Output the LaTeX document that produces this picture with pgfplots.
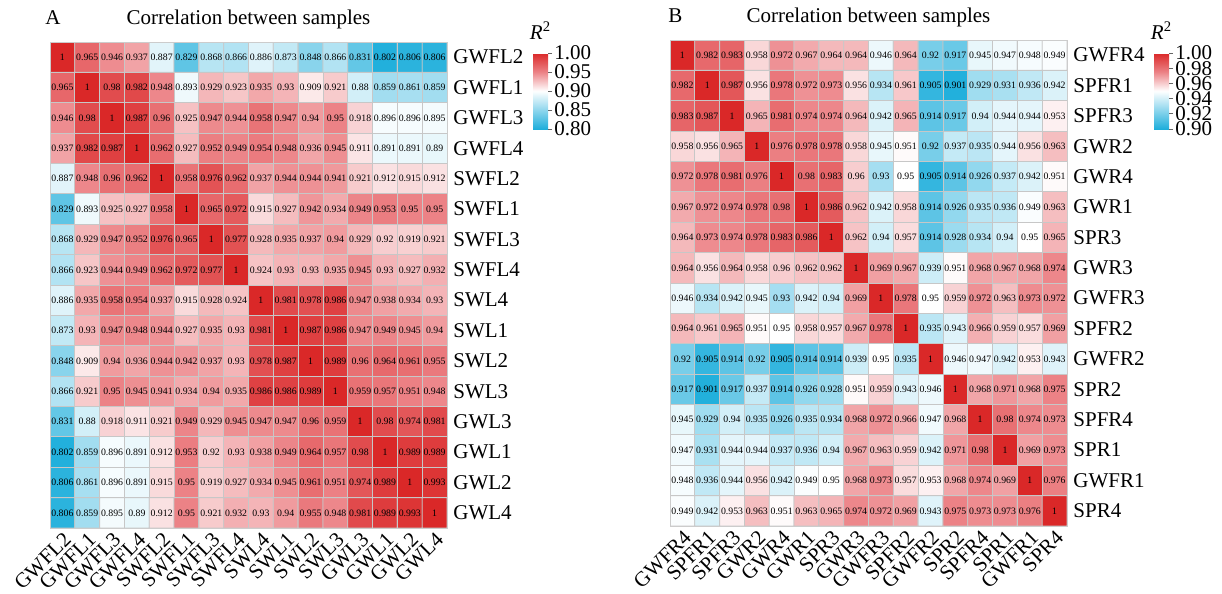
\documentclass[border=0pt]{standalone}
\usepackage{fontspec}
\setmainfont{Liberation Serif}
\usepackage{pgfplots}
\usepackage{pgfplotstable}
\pgfplotsset{compat=1.18}

% panel A: row-wise (x = column, y = row counted from the top)
\pgfplotstableread[row sep=\\]{
x y c\\
0 0 1\\ 1 0 0.965\\ 2 0 0.946\\ 3 0 0.937\\ 4 0 0.887\\ 5 0 0.829\\ 6 0 0.868\\ 7 0 0.866\\ 8 0 0.886\\ 9 0 0.873\\ 10 0 0.848\\ 11 0 0.866\\ 12 0 0.831\\ 13 0 0.802\\ 14 0 0.806\\ 15 0 0.806\\
0 1 0.965\\ 1 1 1\\ 2 1 0.98\\ 3 1 0.982\\ 4 1 0.948\\ 5 1 0.893\\ 6 1 0.929\\ 7 1 0.923\\ 8 1 0.935\\ 9 1 0.93\\ 10 1 0.909\\ 11 1 0.921\\ 12 1 0.88\\ 13 1 0.859\\ 14 1 0.861\\ 15 1 0.859\\
0 2 0.946\\ 1 2 0.98\\ 2 2 1\\ 3 2 0.987\\ 4 2 0.96\\ 5 2 0.925\\ 6 2 0.947\\ 7 2 0.944\\ 8 2 0.958\\ 9 2 0.947\\ 10 2 0.94\\ 11 2 0.95\\ 12 2 0.918\\ 13 2 0.896\\ 14 2 0.896\\ 15 2 0.895\\
0 3 0.937\\ 1 3 0.982\\ 2 3 0.987\\ 3 3 1\\ 4 3 0.962\\ 5 3 0.927\\ 6 3 0.952\\ 7 3 0.949\\ 8 3 0.954\\ 9 3 0.948\\ 10 3 0.936\\ 11 3 0.945\\ 12 3 0.911\\ 13 3 0.891\\ 14 3 0.891\\ 15 3 0.89\\
0 4 0.887\\ 1 4 0.948\\ 2 4 0.96\\ 3 4 0.962\\ 4 4 1\\ 5 4 0.958\\ 6 4 0.976\\ 7 4 0.962\\ 8 4 0.937\\ 9 4 0.944\\ 10 4 0.944\\ 11 4 0.941\\ 12 4 0.921\\ 13 4 0.912\\ 14 4 0.915\\ 15 4 0.912\\
0 5 0.829\\ 1 5 0.893\\ 2 5 0.925\\ 3 5 0.927\\ 4 5 0.958\\ 5 5 1\\ 6 5 0.965\\ 7 5 0.972\\ 8 5 0.915\\ 9 5 0.927\\ 10 5 0.942\\ 11 5 0.934\\ 12 5 0.949\\ 13 5 0.953\\ 14 5 0.95\\ 15 5 0.95\\
0 6 0.868\\ 1 6 0.929\\ 2 6 0.947\\ 3 6 0.952\\ 4 6 0.976\\ 5 6 0.965\\ 6 6 1\\ 7 6 0.977\\ 8 6 0.928\\ 9 6 0.935\\ 10 6 0.937\\ 11 6 0.94\\ 12 6 0.929\\ 13 6 0.92\\ 14 6 0.919\\ 15 6 0.921\\
0 7 0.866\\ 1 7 0.923\\ 2 7 0.944\\ 3 7 0.949\\ 4 7 0.962\\ 5 7 0.972\\ 6 7 0.977\\ 7 7 1\\ 8 7 0.924\\ 9 7 0.93\\ 10 7 0.93\\ 11 7 0.935\\ 12 7 0.945\\ 13 7 0.93\\ 14 7 0.927\\ 15 7 0.932\\
0 8 0.886\\ 1 8 0.935\\ 2 8 0.958\\ 3 8 0.954\\ 4 8 0.937\\ 5 8 0.915\\ 6 8 0.928\\ 7 8 0.924\\ 8 8 1\\ 9 8 0.981\\ 10 8 0.978\\ 11 8 0.986\\ 12 8 0.947\\ 13 8 0.938\\ 14 8 0.934\\ 15 8 0.93\\
0 9 0.873\\ 1 9 0.93\\ 2 9 0.947\\ 3 9 0.948\\ 4 9 0.944\\ 5 9 0.927\\ 6 9 0.935\\ 7 9 0.93\\ 8 9 0.981\\ 9 9 1\\ 10 9 0.987\\ 11 9 0.986\\ 12 9 0.947\\ 13 9 0.949\\ 14 9 0.945\\ 15 9 0.94\\
0 10 0.848\\ 1 10 0.909\\ 2 10 0.94\\ 3 10 0.936\\ 4 10 0.944\\ 5 10 0.942\\ 6 10 0.937\\ 7 10 0.93\\ 8 10 0.978\\ 9 10 0.987\\ 10 10 1\\ 11 10 0.989\\ 12 10 0.96\\ 13 10 0.964\\ 14 10 0.961\\ 15 10 0.955\\
0 11 0.866\\ 1 11 0.921\\ 2 11 0.95\\ 3 11 0.945\\ 4 11 0.941\\ 5 11 0.934\\ 6 11 0.94\\ 7 11 0.935\\ 8 11 0.986\\ 9 11 0.986\\ 10 11 0.989\\ 11 11 1\\ 12 11 0.959\\ 13 11 0.957\\ 14 11 0.951\\ 15 11 0.948\\
0 12 0.831\\ 1 12 0.88\\ 2 12 0.918\\ 3 12 0.911\\ 4 12 0.921\\ 5 12 0.949\\ 6 12 0.929\\ 7 12 0.945\\ 8 12 0.947\\ 9 12 0.947\\ 10 12 0.96\\ 11 12 0.959\\ 12 12 1\\ 13 12 0.98\\ 14 12 0.974\\ 15 12 0.981\\
0 13 0.802\\ 1 13 0.859\\ 2 13 0.896\\ 3 13 0.891\\ 4 13 0.912\\ 5 13 0.953\\ 6 13 0.92\\ 7 13 0.93\\ 8 13 0.938\\ 9 13 0.949\\ 10 13 0.964\\ 11 13 0.957\\ 12 13 0.98\\ 13 13 1\\ 14 13 0.989\\ 15 13 0.989\\
0 14 0.806\\ 1 14 0.861\\ 2 14 0.896\\ 3 14 0.891\\ 4 14 0.915\\ 5 14 0.95\\ 6 14 0.919\\ 7 14 0.927\\ 8 14 0.934\\ 9 14 0.945\\ 10 14 0.961\\ 11 14 0.951\\ 12 14 0.974\\ 13 14 0.989\\ 14 14 1\\ 15 14 0.993\\
0 15 0.806\\ 1 15 0.859\\ 2 15 0.895\\ 3 15 0.89\\ 4 15 0.912\\ 5 15 0.95\\ 6 15 0.921\\ 7 15 0.932\\ 8 15 0.93\\ 9 15 0.94\\ 10 15 0.955\\ 11 15 0.948\\ 12 15 0.981\\ 13 15 0.989\\ 14 15 0.993\\ 15 15 1\\
}\dataA

% panel B
\pgfplotstableread[row sep=\\]{
x y c\\
0 0 1\\ 1 0 0.982\\ 2 0 0.983\\ 3 0 0.958\\ 4 0 0.972\\ 5 0 0.967\\ 6 0 0.964\\ 7 0 0.964\\ 8 0 0.946\\ 9 0 0.964\\ 10 0 0.92\\ 11 0 0.917\\ 12 0 0.945\\ 13 0 0.947\\ 14 0 0.948\\ 15 0 0.949\\
0 1 0.982\\ 1 1 1\\ 2 1 0.987\\ 3 1 0.956\\ 4 1 0.978\\ 5 1 0.972\\ 6 1 0.973\\ 7 1 0.956\\ 8 1 0.934\\ 9 1 0.961\\ 10 1 0.905\\ 11 1 0.901\\ 12 1 0.929\\ 13 1 0.931\\ 14 1 0.936\\ 15 1 0.942\\
0 2 0.983\\ 1 2 0.987\\ 2 2 1\\ 3 2 0.965\\ 4 2 0.981\\ 5 2 0.974\\ 6 2 0.974\\ 7 2 0.964\\ 8 2 0.942\\ 9 2 0.965\\ 10 2 0.914\\ 11 2 0.917\\ 12 2 0.94\\ 13 2 0.944\\ 14 2 0.944\\ 15 2 0.953\\
0 3 0.958\\ 1 3 0.956\\ 2 3 0.965\\ 3 3 1\\ 4 3 0.976\\ 5 3 0.978\\ 6 3 0.978\\ 7 3 0.958\\ 8 3 0.945\\ 9 3 0.951\\ 10 3 0.92\\ 11 3 0.937\\ 12 3 0.935\\ 13 3 0.944\\ 14 3 0.956\\ 15 3 0.963\\
0 4 0.972\\ 1 4 0.978\\ 2 4 0.981\\ 3 4 0.976\\ 4 4 1\\ 5 4 0.98\\ 6 4 0.983\\ 7 4 0.96\\ 8 4 0.93\\ 9 4 0.95\\ 10 4 0.905\\ 11 4 0.914\\ 12 4 0.926\\ 13 4 0.937\\ 14 4 0.942\\ 15 4 0.951\\
0 5 0.967\\ 1 5 0.972\\ 2 5 0.974\\ 3 5 0.978\\ 4 5 0.98\\ 5 5 1\\ 6 5 0.986\\ 7 5 0.962\\ 8 5 0.942\\ 9 5 0.958\\ 10 5 0.914\\ 11 5 0.926\\ 12 5 0.935\\ 13 5 0.936\\ 14 5 0.949\\ 15 5 0.963\\
0 6 0.964\\ 1 6 0.973\\ 2 6 0.974\\ 3 6 0.978\\ 4 6 0.983\\ 5 6 0.986\\ 6 6 1\\ 7 6 0.962\\ 8 6 0.94\\ 9 6 0.957\\ 10 6 0.914\\ 11 6 0.928\\ 12 6 0.934\\ 13 6 0.94\\ 14 6 0.95\\ 15 6 0.965\\
0 7 0.964\\ 1 7 0.956\\ 2 7 0.964\\ 3 7 0.958\\ 4 7 0.96\\ 5 7 0.962\\ 6 7 0.962\\ 7 7 1\\ 8 7 0.969\\ 9 7 0.967\\ 10 7 0.939\\ 11 7 0.951\\ 12 7 0.968\\ 13 7 0.967\\ 14 7 0.968\\ 15 7 0.974\\
0 8 0.946\\ 1 8 0.934\\ 2 8 0.942\\ 3 8 0.945\\ 4 8 0.93\\ 5 8 0.942\\ 6 8 0.94\\ 7 8 0.969\\ 8 8 1\\ 9 8 0.978\\ 10 8 0.95\\ 11 8 0.959\\ 12 8 0.972\\ 13 8 0.963\\ 14 8 0.973\\ 15 8 0.972\\
0 9 0.964\\ 1 9 0.961\\ 2 9 0.965\\ 3 9 0.951\\ 4 9 0.95\\ 5 9 0.958\\ 6 9 0.957\\ 7 9 0.967\\ 8 9 0.978\\ 9 9 1\\ 10 9 0.935\\ 11 9 0.943\\ 12 9 0.966\\ 13 9 0.959\\ 14 9 0.957\\ 15 9 0.969\\
0 10 0.92\\ 1 10 0.905\\ 2 10 0.914\\ 3 10 0.92\\ 4 10 0.905\\ 5 10 0.914\\ 6 10 0.914\\ 7 10 0.939\\ 8 10 0.95\\ 9 10 0.935\\ 10 10 1\\ 11 10 0.946\\ 12 10 0.947\\ 13 10 0.942\\ 14 10 0.953\\ 15 10 0.943\\
0 11 0.917\\ 1 11 0.901\\ 2 11 0.917\\ 3 11 0.937\\ 4 11 0.914\\ 5 11 0.926\\ 6 11 0.928\\ 7 11 0.951\\ 8 11 0.959\\ 9 11 0.943\\ 10 11 0.946\\ 11 11 1\\ 12 11 0.968\\ 13 11 0.971\\ 14 11 0.968\\ 15 11 0.975\\
0 12 0.945\\ 1 12 0.929\\ 2 12 0.94\\ 3 12 0.935\\ 4 12 0.926\\ 5 12 0.935\\ 6 12 0.934\\ 7 12 0.968\\ 8 12 0.972\\ 9 12 0.966\\ 10 12 0.947\\ 11 12 0.968\\ 12 12 1\\ 13 12 0.98\\ 14 12 0.974\\ 15 12 0.973\\
0 13 0.947\\ 1 13 0.931\\ 2 13 0.944\\ 3 13 0.944\\ 4 13 0.937\\ 5 13 0.936\\ 6 13 0.94\\ 7 13 0.967\\ 8 13 0.963\\ 9 13 0.959\\ 10 13 0.942\\ 11 13 0.971\\ 12 13 0.98\\ 13 13 1\\ 14 13 0.969\\ 15 13 0.973\\
0 14 0.948\\ 1 14 0.936\\ 2 14 0.944\\ 3 14 0.956\\ 4 14 0.942\\ 5 14 0.949\\ 6 14 0.95\\ 7 14 0.968\\ 8 14 0.973\\ 9 14 0.957\\ 10 14 0.953\\ 11 14 0.968\\ 12 14 0.974\\ 13 14 0.969\\ 14 14 1\\ 15 14 0.976\\
0 15 0.949\\ 1 15 0.942\\ 2 15 0.953\\ 3 15 0.963\\ 4 15 0.951\\ 5 15 0.963\\ 6 15 0.965\\ 7 15 0.974\\ 8 15 0.972\\ 9 15 0.969\\ 10 15 0.943\\ 11 15 0.975\\ 12 15 0.973\\ 13 15 0.973\\ 14 15 0.976\\ 15 15 1\\
}\dataB

\pgfplotsset{
  heat/.style={
    width=198.5pt, height=243pt, scale only axis,
    enlargelimits=false,
    xmin=-0.5, xmax=15.5, ymin=-0.5, ymax=15.5,
    xtick={0,...,15}, ytick={0,...,15},
    yticklabel pos=right,
    major tick length=0pt,
    tick label style={font=\fontsize{10.5}{12}\selectfont},
    xticklabel style={rotate=45, anchor=north east, inner sep=1pt},
    yticklabel style={anchor=west, inner sep=0pt, xshift=3pt},
    axis line style={draw=black!20},
    colormap={rb}{rgb255=(30,174,219) rgb255=(142,214,237) rgb255=(255,255,255) rgb255=(236,130,134) rgb255=(218,40,40)},
    colorbar,
  },
  % the colorbar comes out top-down here, so its map and labels are given the other way round
  cbar/.style={
    at={(parent axis.north east)}, anchor=north west,
    colormap={rbrev}{rgb255=(218,40,40) rgb255=(236,130,134) rgb255=(255,255,255) rgb255=(142,214,237) rgb255=(30,174,219)},
    width=7.5pt, height=38pt,
    axis line style={draw=none},
    ytick pos=right, yticklabel pos=right,
    ytick style={draw=black!60, line width=0.4pt},
    major tick length=2pt, tick align=outside,
    yticklabel style={font=\fontsize{10.5}{10}\selectfont, inner sep=1pt},
    title={\textit{R}\textsuperscript{2}},
    title style={font=\fontsize{10.5}{12}\selectfont, yshift=-3pt},
  },
  cells/.style={matrix plot, mesh/cols=16, point meta=explicit, draw=black!22, line width=0.4pt},
  vals/.style={
    only marks, mark=none, point meta=explicit,
    nodes near coords={\pgfmathprintnumber[fixed,precision=3,assume math mode=true]{\pgfplotspointmeta}},
    nodes near coords align=center,
    every node near coord/.append style={font=\fontsize{4.9}{5}\selectfont, inner sep=0pt, text=black},
  },
}

\begin{document}
\begin{tikzpicture}
\path[use as bounding box] (-25pt,21pt) rectangle (586pt,-276pt);

% ---------- panel A ----------
\begin{axis}[heat, name=A, at={(0,0)}, anchor=north west,
  point meta min=0.8, point meta max=1.0,
  xticklabels={GWFL2,GWFL1,GWFL3,GWFL4,SWFL2,SWFL1,SWFL3,SWFL4,SWL4,SWL1,SWL2,SWL3,GWL3,GWL1,GWL2,GWL4},
  yticklabels={GWFL2,GWFL1,GWFL3,GWFL4,SWFL2,SWFL1,SWFL3,SWFL4,SWL4,SWL1,SWL2,SWL3,GWL3,GWL1,GWL2,GWL4},
  colorbar style={cbar, xshift=34.5pt, yshift=-5.5pt,
    ytick={0.80,0.85,0.90,0.95,1.00}, yticklabels={1.00,0.95,0.90,0.85,0.80}},
]
\addplot[cells] table[x=x, y=y, meta=c] {\dataA};
\addplot[vals] table[x=x, y=y, meta=c] {\dataA};
\end{axis}
\node[anchor=base west, font=\fontsize{10.5}{12}\selectfont, inner sep=0pt] at ([xshift=-2.5pt,yshift=9pt]A.north west) {A};
\node[anchor=base, font=\fontsize{10.5}{12}\selectfont, inner sep=0pt] at ([yshift=9pt]A.north) {Correlation between samples};

% ---------- panel B ----------
\begin{axis}[heat, name=B, at={(310pt,1pt)}, anchor=north west,
  point meta min=0.9, point meta max=1.0,
  xticklabels={GWFR4,SPFR1,SPFR3,GWR2,GWR4,GWR1,SPR3,GWR3,GWFR3,SPFR2,GWFR2,SPR2,SPFR4,SPR1,GWFR1,SPR4},
  yticklabels={GWFR4,SPFR1,SPFR3,GWR2,GWR4,GWR1,SPR3,GWR3,GWFR3,SPFR2,GWFR2,SPR2,SPFR4,SPR1,GWFR1,SPR4},
  colorbar style={cbar, xshift=35pt, yshift=-6.5pt,
    ytick={0.90,0.92,0.94,0.96,0.98,1.00}, yticklabels={1.00,0.98,0.96,0.94,0.92,0.90}},
]
\addplot[cells] table[x=x, y=y, meta=c] {\dataB};
\addplot[vals] table[x=x, y=y, meta=c] {\dataB};
\end{axis}
\node[anchor=base west, font=\fontsize{10.5}{12}\selectfont, inner sep=0pt] at ([xshift=-1pt,yshift=9pt]B.north west) {B};
\node[anchor=base, font=\fontsize{10.5}{12}\selectfont, inner sep=0pt] at ([yshift=9pt]B.north) {Correlation between samples};
\end{tikzpicture}
\end{document}
